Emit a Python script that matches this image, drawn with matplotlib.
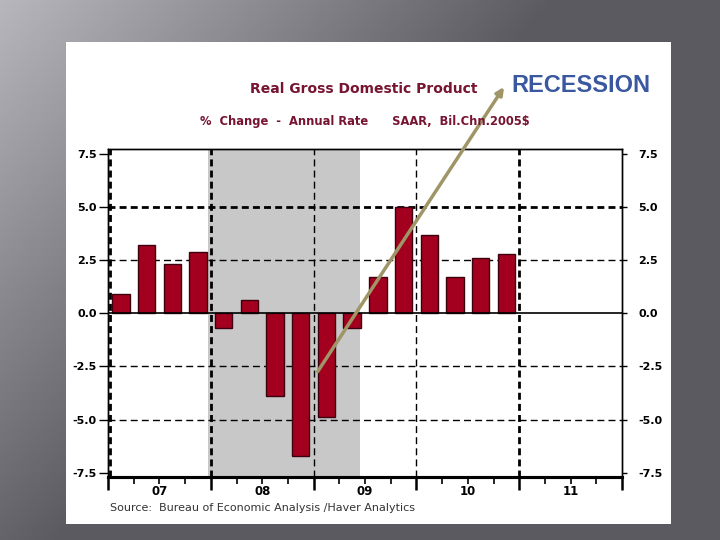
import numpy as np
import matplotlib.pyplot as plt
from matplotlib.patches import Rectangle

# quarterly real GDP growth, % change annual rate (2007Q1 - 2010Q4)
quarters = np.arange(16)
gdp_growth = [0.9, 3.2, 2.3, 2.9,
              -0.7, 0.6, -3.9, -6.7,
              -4.9, -0.7, 1.7, 5.0,
              3.7, 1.7, 2.6, 2.8]
start_year = 2007
year_labels = ['07', '08', '09', '10', '11']
yticks = [-7.5, -5.0, -2.5, 0.0, 2.5, 5.0, 7.5]
recession = (2007.97, 2009.45)

bar_color = '#a3001f'
title_color = '#761431'

fig = plt.figure(figsize=(7.2, 5.4), dpi=100)

# grey slide background
bg = fig.add_axes([0, 0, 1, 1], zorder=-10)
gx, gy = np.meshgrid(np.linspace(0, 1, 200), np.linspace(0, 1, 150))
v = 0.36 + 0.36 * np.clip(1 - (gx * 1.3 + gy * 0.9), 0, 1)
rgb = np.dstack([v, v - 0.005, v + 0.02])
bg.imshow(rgb, aspect='auto', extent=[0, 1, 1, 0])
bg.set_xlim(0, 1)
bg.set_ylim(1, 0)
bg.axis('off')
fig.patches.append(Rectangle((66 / 720, 1 - 524 / 540), 605 / 720, 482 / 540,
                             transform=fig.transFigure, facecolor='white',
                             edgecolor='none', zorder=-5))

ax = fig.add_axes([108 / 720, 1 - 477 / 540, 514 / 720, 327.5 / 540])
ax.set_facecolor('none')

x = start_year + (quarters + 0.5) * 0.25
ax.axvspan(*recession, color='#c8c8c8', zorder=0, lw=0)

# grid lines
ax.axhline(5.0, color='black', lw=2, ls=(0, (2.5, 1.5)), zorder=1)
for yv in [2.5, -2.5, -5.0]:
    ax.axhline(yv, color='black', lw=1, ls=(0, (5, 3)), zorder=1)
for xv in [2007.02, 2008, 2011]:
    ax.axvline(xv, color='black', lw=2, ls=(0, (2.5, 1.5)), zorder=1)
for xv in [2009, 2010]:
    ax.axvline(xv, color='black', lw=1, ls=(0, (5, 3)), zorder=1)

ax.bar(x, gdp_growth, width=0.17, color=bar_color, edgecolor='#3d000e',
       linewidth=1, zorder=2)
ax.axhline(0, color='black', lw=1.2, zorder=3)

ax.set_xlim(start_year, start_year + 5)
ax.set_ylim(-7.7, 7.7)

# x axis: year boundaries as major ticks, quarters as minor ticks
years = np.arange(start_year, start_year + 6)
ax.set_xticks(years, labels=[''] * len(years))
minor_pos = [y + q * 0.25 for y in years[:-1] for q in (1, 2, 3)]
minor_lab = [year_labels[i // 3] if i % 3 == 1 else '' for i in range(len(minor_pos))]
ax.set_xticks(minor_pos, labels=minor_lab, minor=True)
ax.tick_params(axis='x', which='major', length=9, width=1.8, direction='out')
ax.tick_params(axis='x', which='minor', length=5, width=1.2, direction='out',
               pad=0.5, labelsize=8.5)
for lab in ax.get_xticklabels(minor=True):
    lab.set_fontweight('bold')

# y axis labelled on both sides
ax.set_yticks(yticks, labels=[f'{t:.1f}' for t in yticks])
ax.tick_params(axis='y', length=6.5, width=1, labelsize=8, pad=1.5)
for lab in ax.get_yticklabels():
    lab.set_fontweight('bold')

ax_r = ax.twinx()
ax_r.set_ylim(ax.get_ylim())
ax_r.set_yticks(yticks, labels=[f'{t:.1f}' for t in yticks])
ax_r.tick_params(axis='y', length=3.6, width=1, labelsize=8, pad=8)
for lab in ax_r.get_yticklabels():
    lab.set_fontweight('bold')

for a in (ax, ax_r):
    for side in ['left', 'top', 'right']:
        a.spines[side].set_linewidth(1)
    a.spines['bottom'].set_linewidth(2.2)

# titles and notes
fig.text(364 / 720, 1 - 89 / 540, 'Real Gross Domestic Product', color=title_color,
         fontsize=10, fontweight='bold', ha='center', va='center')
fig.text(365 / 720, 1 - 121 / 540, '%  Change  -  Annual Rate      SAAR,  Bil.Chn.2005$',
         color=title_color, fontsize=8.3, fontweight='bold', ha='center', va='center')
fig.text(110 / 720, 1 - 508 / 540, 'Source:  Bureau of Economic Analysis /Haver Analytics',
         color='#333333', fontsize=8, ha='left', va='center')
fig.text(511 / 720, 1 - 85 / 540, 'RECESSION', color='#3a58a0', fontsize=17,
         family='Liberation Sans', fontweight='bold', ha='left', va='center')

ax_r.annotate('', xy=(504 / 720, 1 - 87 / 540), xycoords='figure fraction',
              xytext=(2009.04, -2.74), textcoords='data', annotation_clip=False,
              arrowprops=dict(arrowstyle='-|>', color='#a09566', lw=2.5,
                              mutation_scale=11, shrinkA=0, shrinkB=0), zorder=5)

fig.savefig('out.png', dpi=100)
